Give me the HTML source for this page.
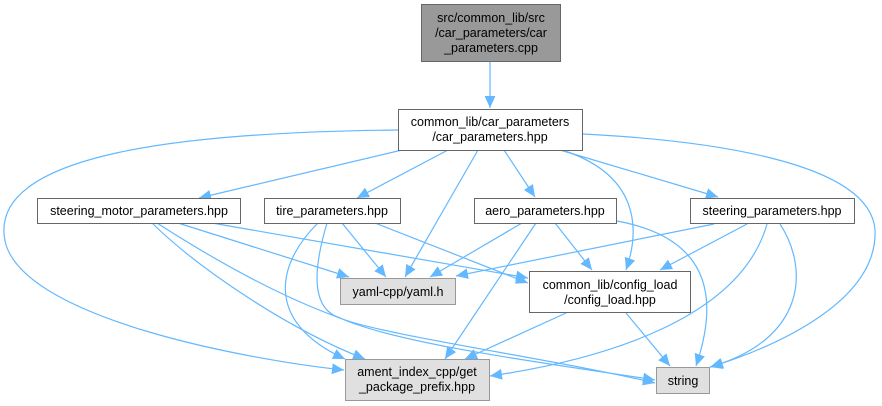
<!DOCTYPE html>
<html><head><meta charset="utf-8"><style>
html,body{margin:0;padding:0;background:#fff;}
svg{display:block;}
text{font-family:"Liberation Sans",Arial,sans-serif;font-size:12.5px;fill:#000;}
.e{fill:none;stroke:#63b8ff;stroke-width:1.2;}
</style></head><body>
<svg width="882" height="406" viewBox="0 0 882 406" xmlns="http://www.w3.org/2000/svg">
<defs>
<marker id="a" viewBox="0 0 10 10" refX="10" refY="5" markerWidth="12" markerHeight="12" markerUnits="userSpaceOnUse" orient="auto">
<path d="M0,0.5 L10,5 L0,9.5 z" fill="#63b8ff"/>
</marker>
</defs>
<g class="e" marker-end="url(#a)">
<path d="M490,61 L490,108"/>
<path d="M402,150 L199,198"/>
<path d="M448,150 L357,198"/>
<path d="M478,150 L405,277"/>
<path d="M504,150 L535,197"/>
<path d="M562,150 C640,175 640,230 626,270"/>
<path d="M560,150 L718,197"/>
<path d="M583,134 C700,140 870,160 875,230 C878,300 780,345 711,367"/>
<path d="M398,130 C200,132 -20,150 6,245 C30,320 250,360 344,370"/>
<path d="M178,223 L349,277"/>
<path d="M212,223 L528,278"/>
<path d="M152,223 C200,270 290,330 365,359"/>
<path d="M157,223 C230,270 290,300 340,318 C400,345 560,365 655,380"/>
<path d="M342,223 L386,277"/>
<path d="M375,223 L528,283"/>
<path d="M318,223 C280,260 260,320 345,359"/>
<path d="M327,223 C310,280 315,310 340,318 C380,335 560,360 655,383"/>
<path d="M522,223 L430,277"/>
<path d="M536,223 L445,359"/>
<path d="M555,223 L592,270"/>
<path d="M617,221 C720,240 715,310 696,366"/>
<path d="M714,224 L456,276"/>
<path d="M747,224 L660,270"/>
<path d="M767,224 C740,320 600,360 490,376"/>
<path d="M780,224 C810,270 805,340 710,367"/>
<path d="M566,313 L465,359"/>
<path d="M626,313 L670,366"/>
</g>
<g stroke="#666" stroke-width="1">
<rect x="421.5" y="4.5" width="139" height="57" fill="#999"/>
<rect x="398.5" y="109.5" width="184" height="41" fill="#fff"/>
<rect x="37.5" y="198.5" width="203" height="25" fill="#fff"/>
<rect x="264.5" y="198.5" width="136" height="25" fill="#fff"/>
<rect x="474.5" y="198.5" width="142" height="25" fill="#fff"/>
<rect x="690.5" y="198.5" width="164" height="25" fill="#fff"/>
<rect x="529.5" y="271.5" width="161" height="41" fill="#fff"/>
</g>
<g stroke="#999" stroke-width="1" fill="#e0e0e0">
<rect x="340.5" y="278.5" width="115" height="26"/>
<rect x="345.5" y="359.5" width="144" height="41"/>
<rect x="656.5" y="367.5" width="53" height="26"/>
</g>
<g text-anchor="middle">
<text x="491" y="22">src/common_lib/src</text>
<text x="491" y="37">/car_parameters/car</text>
<text x="491" y="52">_parameters.cpp</text>
<text x="490" y="126">common_lib/car_parameters</text>
<text x="490" y="141">/car_parameters.hpp</text>
<text x="139" y="215">steering_motor_parameters.hpp</text>
<text x="332" y="215">tire_parameters.hpp</text>
<text x="545" y="215">aero_parameters.hpp</text>
<text x="772" y="215">steering_parameters.hpp</text>
<text x="398" y="296">yaml-cpp/yaml.h</text>
<text x="610" y="289">common_lib/config_load</text>
<text x="610" y="304">/config_load.hpp</text>
<text x="417" y="376">ament_index_cpp/get</text>
<text x="417" y="391">_package_prefix.hpp</text>
<text x="683" y="385">string</text>
</g>
</svg>
</body></html>
